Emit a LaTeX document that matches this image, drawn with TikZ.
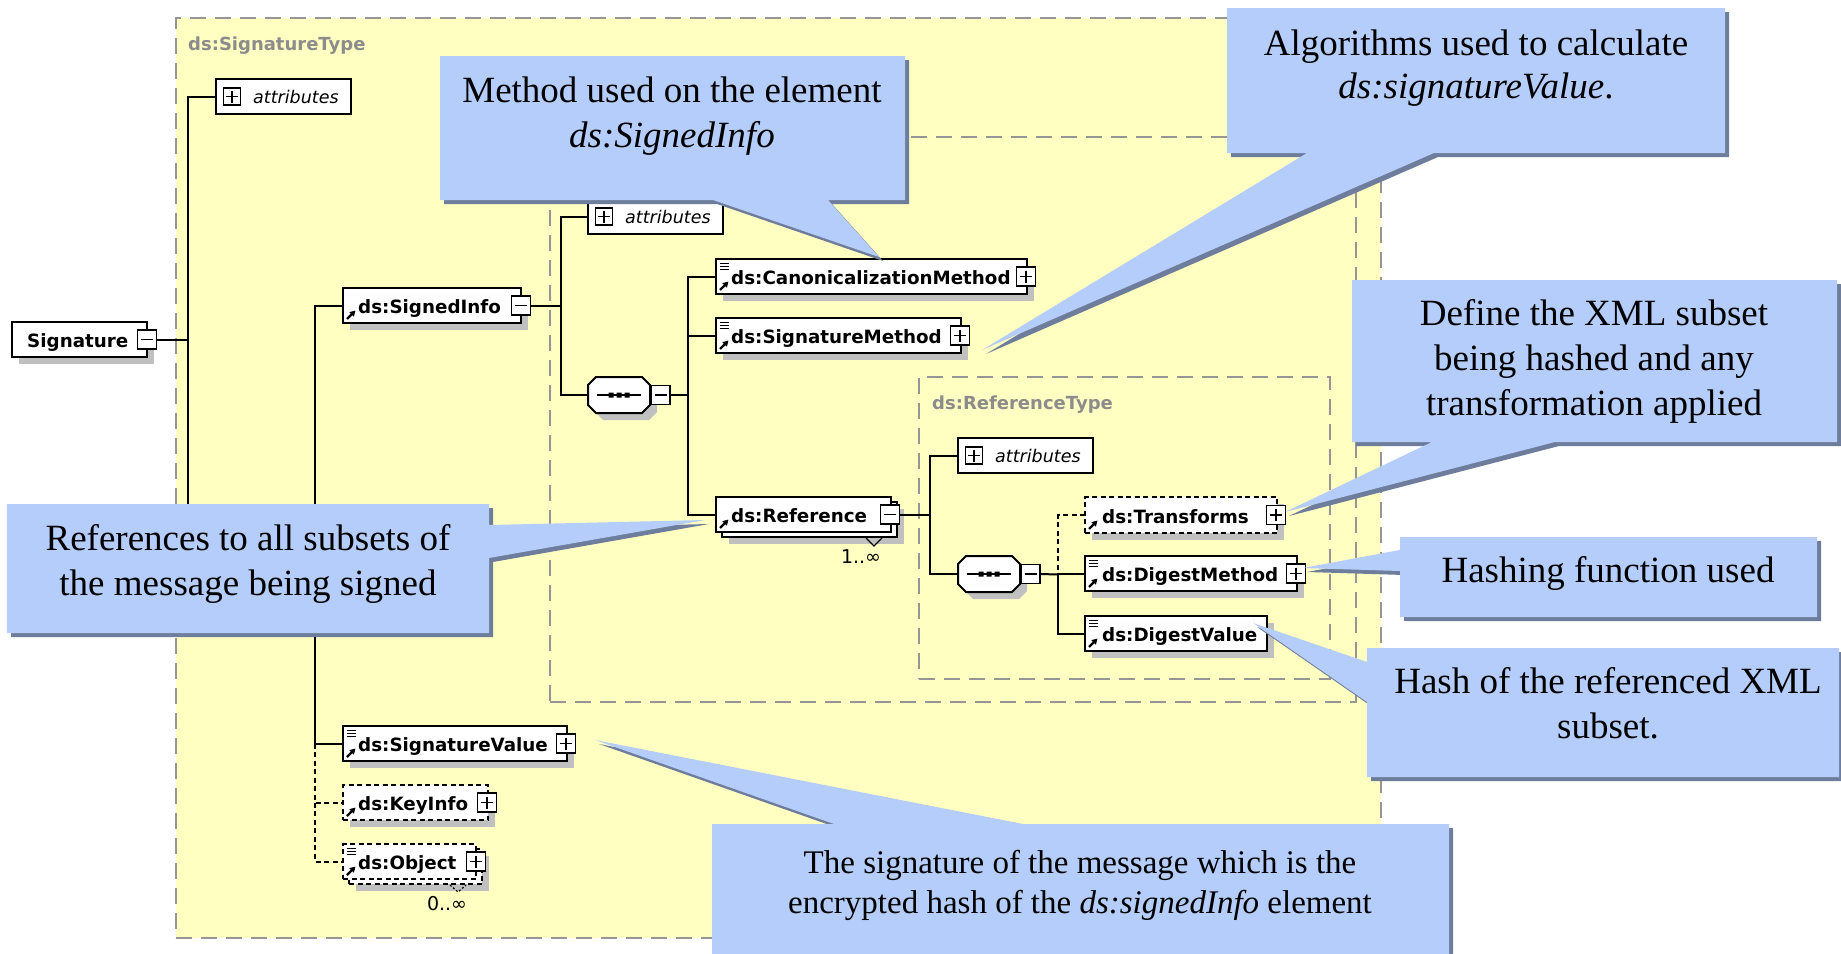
\documentclass[tikz,border=0pt]{standalone}
\usepackage{fontspec}
\setmainfont{Liberation Serif}
\newfontfamily\elfont{DejaVu Sans}
\usetikzlibrary{arrows.meta}
\definecolor{ylw}{RGB}{255,255,194}
\definecolor{tgray}{RGB}{140,140,140}
\definecolor{dgray}{RGB}{150,150,150}
\definecolor{shd}{RGB}{192,192,192}
\definecolor{cfill}{RGB}{180,205,250}
\definecolor{cshadow}{RGB}{110,125,155}
\tikzset{
 typebox/.style={draw=dgray, line width=1.6, dash pattern=on 16pt off 9pt, rectangle, inner sep=0, outer sep=0, anchor=north west},
 elbox/.style={draw=black, fill=white, line width=2, inner sep=0, outer sep=0, rectangle, anchor=north west},
 optbox/.style={elbox, dash pattern=on 5pt off 3.5pt},
 eltext/.style={font=\elfont\bfseries\fontsize{18.3}{20}\selectfont, inner sep=0, anchor=base west},
 attrtext/.style={font=\elfont\itshape\fontsize{17.5}{20}\selectfont, inner sep=0, anchor=base west},
 typetext/.style={font=\elfont\bfseries\fontsize{18}{20}\selectfont, text=tgray, inner sep=0, anchor=base west},
 pmbox/.style={draw=black, fill=white, line width=1.5, minimum size=19, inner sep=0, outer sep=0},
 conn/.style={line width=2, draw=black},
 optconn/.style={conn, dash pattern=on 5pt off 3.5pt},
 ctext/.style={font=\fontsize{37}{44}\selectfont, inner sep=0, anchor=base},
 ctextsm/.style={font=\fontsize{33}{40}\selectfont, inner sep=0, anchor=base},
 card/.style={font=\elfont\fontsize{19}{21}\selectfont, inner sep=0, anchor=base},
}
% element box with shadow
\newcommand\elem[6]{%
 \fill[shd] ({#2+7},{#3+7}) rectangle ({#4+7},{#5+7});
 \node[#6, minimum width={#4-#2}, minimum height={#5-#3}] (#1) at (#2,#3) {};
}
% stacked (multiple occurrence) element box
\newcommand\elemstack[6]{%
 \fill[shd] ({#2+13},{#3+12}) rectangle ({#4+13},{#5+12});
 \node[#6, minimum width={#4-#2}, minimum height={#5-#3}] (#1-back) at ({#2+6},{#3+5}) {};
 \node[#6, minimum width={#4-#2}, minimum height={#5-#3}] (#1) at (#2,#3) {};
}
\newcommand\eqicon[2]{%
 \foreach \k in {0,1,2} \draw[line width=1.2] ({#1+4},{#2+4.5+3*\k}) -- ({#1+13},{#2+4.5+3*\k});
}
\newcommand\arricon[2]{%
 \draw[line width=2.2, -{Triangle[length=5.5pt,width=6pt]}] ({#1+4},{#2-4}) -- ({#1+12.5},{#2-12.5});
}
\newcommand\minusb[3]{%
 \node[pmbox] (#1) at (#2,#3) {};
 \draw[line width=1.5] ({#2-6},{#3}) -- ({#2+6},{#3});
}
\newcommand\plusb[3]{%
 \node[pmbox] (#1) at (#2,#3) {};
 \draw[line width=1.5] ({#2-6},{#3}) -- ({#2+6},{#3}) ({#2},{#3-6}) -- ({#2},{#3+6});
}
\newcommand\attrbox[3]{%
 \node[elbox, minimum width=135, minimum height=35] (#1) at (#2,#3) {};
 \node[pmbox, minimum size=17] (#1-p) at ({#2+16},{#3+17.5}) {};
 \draw[line width=1.5] ({#2+10},{#3+17.5}) -- ({#2+22},{#3+17.5}) ({#2+16},{#3+11.5}) -- ({#2+16},{#3+23.5});
 \node[attrtext] (#1-t) at ({#2+37},{#3+24}) {attributes};
}
\newcommand\seqnode[3]{%
 \begin{scope}[shift={(#2,#3)}]
 \fill[shd] (15,7)--(61,7)--(69,15)--(69,35)--(61,43)--(15,43)--(7,35)--(7,15)--cycle;
 \node[inner sep=0, outer sep=0, minimum width=62, minimum height=36, anchor=north west] (#1) at (0,0) {};
 \draw[line width=2, fill=white] (8,0)--(54,0)--(62,8)--(62,28)--(54,36)--(8,36)--(0,28)--(0,8)--cycle;
 \draw[line width=1.5] (9,18) -- (53,18);
 \fill (20.5,15.5) rectangle (25.5,20.5) (28.5,15.5) rectangle (33.5,20.5) (36.5,15.5) rectangle (41.5,20.5);
 \minusb{#1m}{72.5}{18}
 \end{scope}
}
\newcommand\callout[1]{%
 \fill[cshadow, shift={(4,4)}] #1;
 \fill[cfill] #1;
}
\begin{document}
\begin{tikzpicture}[x=1pt,y=-1pt]
\useasboundingbox (0,0) rectangle (1841,953);
\clip (0,0) rectangle (1841,953);
\fill[white] (0,0) rectangle (1841,953);
% ---------- type boxes
\node[typebox, fill=ylw, minimum width=1205, minimum height=920] (sigtype) at (176,18) {};
\node[typetext] (sigtype-t) at (188,50) {ds:SignatureType};
\node[typebox, minimum width=806, minimum height=565] (sitype) at (550,137) {};
\node[typebox, minimum width=411, minimum height=302] (reftype) at (919,377) {};
\node[typetext] (reftype-t) at (932,409) {ds:ReferenceType};
% ---------- elements
\elem{sig}{12}{322}{147}{357}{elbox}
\node[eltext] (sig-t) at (27,347) {Signature};
\minusb{sigm}{147}{339.5}

\attrbox{attrA}{216}{79}

\elem{siginfo}{343}{288}{521}{323}{elbox}
\arricon{343}{323}
\node[eltext] (siginfo-t) at (358,313) {ds:SignedInfo};
\minusb{siginfom}{521}{305.5}

\attrbox{attrB}{588}{199}
\seqnode{seqB}{588}{377}

\elem{canon}{716}{259}{1027}{294}{elbox}
\eqicon{716}{259}\arricon{716}{294}
\node[eltext] (canon-t) at (731,284) {ds:CanonicalizationMethod};
\plusb{canonp}{1026}{276.5}

\elem{sigmeth}{716}{318}{961}{353}{elbox}
\eqicon{716}{318}\arricon{716}{353}
\node[eltext] (sigmeth-t) at (731,343) {ds:SignatureMethod};
\plusb{sigmethp}{960}{335.5}

\elemstack{reference}{716}{497}{891}{532}{elbox}
\arricon{716}{532}
\node[eltext] (reference-t) at (731,522) {ds:Reference};
\minusb{refm}{890}{514.5}
\draw[line width=1.2] (866,538) -- (874,546) -- (882,538);
\node[card] (refcard) at (861,563) {1..∞};

\attrbox{attrC}{958}{438}
\seqnode{seqC}{958}{556}

\elem{transforms}{1085}{497}{1277}{533}{optbox}
\arricon{1085}{533}
\node[eltext] (transforms-t) at (1102,523) {ds:Transforms};
\plusb{transformsp}{1276}{515}

\elem{digm}{1085}{556}{1297}{591}{elbox}
\eqicon{1085}{556}\arricon{1085}{591}
\node[eltext] (digm-t) at (1102,581) {ds:DigestMethod};
\plusb{digmp}{1296}{573.5}

\elem{digv}{1085}{616}{1267}{651}{elbox}
\eqicon{1085}{616}\arricon{1085}{651}
\node[eltext] (digv-t) at (1102,641) {ds:DigestValue};

\elem{sigval}{343}{726}{567}{761}{elbox}
\eqicon{343}{726}\arricon{343}{761}
\node[eltext] (sigval-t) at (358,751) {ds:SignatureValue};
\plusb{sigvalp}{566}{743.5}

\elem{keyinfo}{343}{785}{488}{820}{optbox}
\arricon{343}{820}
\node[eltext] (keyinfo-t) at (358,810) {ds:KeyInfo};
\plusb{keyinfop}{487}{802.5}

\elemstack{object}{343}{844}{476}{879}{optbox}
\eqicon{343}{844}\arricon{343}{879}
\node[eltext] (object-t) at (358,869) {ds:Object};
\plusb{objectp}{476}{861.5}
\draw[line width=1.2, dash pattern=on 2pt off 2pt] (450,885) -- (458,892) -- (466,885);
\node[card] (objcard) at (447,910) {0..∞};

% ---------- connectors
\coordinate (tA1) at (188,96.5);
\coordinate (tA2) at (188,570);
\coordinate (tB) at (315,570);
\coordinate (tC) at (561,305.5);
\coordinate (tD) at (688,395);
\coordinate (tE) at (930,514.5);
\coordinate (tF) at (1058,574.5);

\draw[conn] (sigm.east) -- (sigm.east -| tA1);
\draw[conn] (attrA.west) -- (tA1) -- (tA2) -- (tB);
\draw[conn] (siginfo.west) -| (sigval.west -| tB) -- (sigval.west);
\draw[optconn] (sigval.west -| tB) |- (keyinfo.west);
\draw[optconn] (keyinfo.west -| tB) |- (object.west);

\draw[conn] (siginfom.east) -- (tC);
\draw[conn] (attrB.west) -| (tC);
\draw[conn] (seqB.west) -| (tC);

\draw[conn] (seqBm.east) -- (tD);
\draw[conn] (canon.west) -| (tD);
\draw[conn] (sigmeth.west) -| (tD);
\draw[conn] (reference.west) -| (tD);

\draw[conn] (refm.east) -- (tE);
\draw[conn] (attrC.west) -| (tE);
\draw[conn] (seqC.west) -| (tE);

\draw[conn] (seqCm.east) -- (tF);
\draw[optconn] (transforms.west) -| (tF);
\draw[conn] (digm.west) -| (tF);
\draw[conn] (digv.west) -| (tF);

% ---------- callouts
\callout{(440,56)--(905,56)--(905,200)--(828,200)--(879,257)--(713,200)--(440,200)--cycle}
\node[ctext] (c1a) at (672,102) {Method used on the element};
\node[ctext] (c1b) at (672,147) {\itshape ds:SignedInfo};

\callout{(1227,8)--(1725,8)--(1725,153)--(1434,153)--(982,350)--(1307,153)--(1227,153)--cycle}
\node[ctext] (c2a) at (1476,55) {Algorithms used to calculate};
\node[ctext] (c2b) at (1476,98) {\textit{ds:signatureValue}.};

\callout{(1352,280)--(1837,280)--(1837,442)--(1555,442)--(1285,512)--(1432,442)--(1352,442)--cycle}
\node[ctext] (c3a) at (1594,325) {Define the XML subset};
\node[ctext] (c3b) at (1594,370) {being hashed and any};
\node[ctext] (c3c) at (1594,415) {transformation applied};

\callout{(1400,537)--(1817,537)--(1817,617)--(1400,617)--(1400,571)--(1303,568)--(1400,550)--cycle}
\node[ctext] (c4a) at (1608,582) {Hashing function used};

\callout{(1367,648)--(1839,648)--(1839,777)--(1367,777)--(1367,702)--(1253,623)--(1367,662)--cycle}
\node[ctext] (c5a) at (1608,693) {Hash of the referenced XML};
\node[ctext] (c5b) at (1608,738) {subset.};

\callout{(712,824)--(834,824)--(595,740)--(1023,824)--(1449,824)--(1449,970)--(712,970)--cycle}
\node[ctextsm] (c6a) at (1080,873) {The signature of the message which is the};
\node[ctextsm] (c6b) at (1080,913) {encrypted hash of the \textit{ds:signedInfo} element};

\callout{(7,504)--(489,504)--(489,525)--(705,520)--(489,558)--(489,633)--(7,633)--cycle}
\node[ctext] (c7a) at (248,550) {References to all subsets of};
\node[ctext] (c7b) at (248,595) {the message being signed};
\end{tikzpicture}
\end{document}
